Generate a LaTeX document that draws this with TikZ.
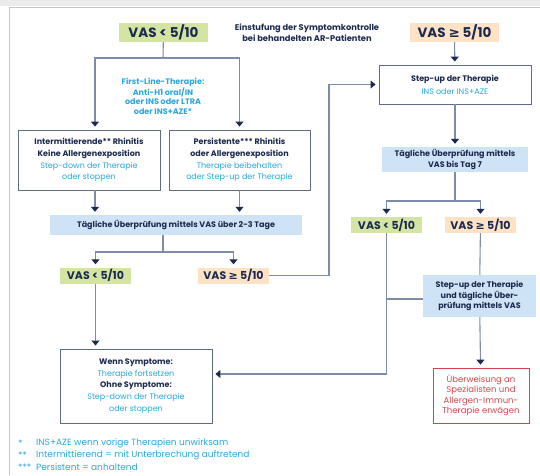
\documentclass[tikz,border=0pt]{standalone}
\usepackage{fontspec}
\setmainfont{Poppins}
\newfontfamily\symfont{DejaVu Sans}
\usetikzlibrary{arrows.meta}
\definecolor{navy}{HTML}{1B2A4E}
\definecolor{lblue}{HTML}{2AA7DF}
\definecolor{linec}{HTML}{7D8CA8}
\definecolor{boxc}{HTML}{5E6C88}
\definecolor{vgreen}{HTML}{D3E4A3}
\definecolor{vpeach}{HTML}{FDE2C6}
\definecolor{paleblue}{HTML}{CFE3F6}
\definecolor{refred}{HTML}{D9444A}
\definecolor{framec}{HTML}{C4C4C4}
\def\hd#1{{\color{navy}\bfseries #1}}
\def\lb#1{{\color{lblue}#1}}
\def\ge{{\symfont ≥}}
\begin{document}
\begin{tikzpicture}[x=1pt,y=-1pt,
  line/.style={draw=linec,line width=1.1pt},
  arr/.style={line,-{Triangle[length=5pt,width=8pt,color=navy]},shorten >=3pt},
  vasbig/.style={font=\fontsize{13.5}{14}\selectfont\bfseries,text=navy,minimum width=89pt,minimum height=19pt,inner sep=0pt},
  vassmall/.style={font=\fontsize{11}{12}\selectfont\bfseries,text=navy,minimum width=71pt,minimum height=16pt,inner sep=0pt},
  wbox/.style={draw=boxc,line width=0.9pt,fill=white,align=center,font=\fontsize{8}{11.7}\selectfont,inner sep=0pt},
  bbox/.style={fill=paleblue,align=center,text=navy,font=\fontsize{8}{10.5}\selectfont\bfseries,inner sep=0pt},
  note/.style={text=lblue,font=\fontsize{9}{10}\selectfont,anchor=west,inner sep=0pt}]
\useasboundingbox (0,0) rectangle (540,475);
\fill[black!8] (0,0) rectangle (540,6);
\draw[framec] (540,7) -- (9,7) -- (9,475);
% left branch
\node[vasbig,fill=vgreen] (v1) at (163.5,32.5) {VAS < 5/10};
\node[align=center,text=navy,font=\fontsize{8.3}{11}\selectfont\bfseries] (title) at (307,32.5) {Einstufung der Symptomkontrolle\\bei behandelten AR-Patienten};
\node[align=center,text=lblue,font=\fontsize{8}{9.5}\selectfont\bfseries] (flt) at (163,96) {First-Line-Therapie:\\Anti-H1 oral/IN\\oder INS oder LTRA\\oder INS+AZE*};
\node[wbox,minimum width=142pt,minimum height=60pt] (int) at (89,160) {\hd{Intermittierende** Rhinitis}\\\hd{Keine Allergenexposition}\\\lb{Step-down der Therapie}\\\lb{oder stoppen}};
\node[wbox,minimum width=141pt,minimum height=60pt] (per) at (239.5,160) {\hd{Persistente*** Rhinitis}\\\hd{oder Allergenexposition}\\\lb{Therapie beibehalten}\\\lb{oder Step-up der Therapie}};
\node[bbox,minimum width=252pt,minimum height=20pt] (d1) at (176,225) {Tägliche Überprüfung mittels VAS über 2-3 Tage};
\node[vassmall,fill=vgreen] (v3) at (95.5,275.5) {VAS < 5/10};
\node[vassmall,fill=vpeach] (v4) at (233.5,275.5) {VAS \ge{} 5/10};
\node[wbox,minimum width=152pt,minimum height=74pt] (fin) at (136,386) {\hd{Wenn Symptome:}\\\lb{Therapie fortsetzen}\\\hd{Ohne Symptome:}\\\lb{Step-down der Therapie}\\\lb{oder stoppen}};
% right branch
\node[vasbig,fill=vpeach] (v2) at (454.5,32.5) {VAS \ge{} 5/10};
\node[wbox,minimum width=152pt,minimum height=39pt,font=\fontsize{8}{13}\selectfont] (su) at (455,84.5) {\hd{Step-up der Therapie}\\\lb{INS oder INS+AZE}};
\node[bbox,minimum width=146pt,minimum height=25pt] (d2) at (455,159.5) {Tägliche Überprüfung mittels\\VAS bis Tag 7};
\node[vassmall,fill=vgreen] (v5) at (386.5,225) {VAS < 5/10};
\node[vassmall,fill=vpeach] (v6) at (480.5,225) {VAS \ge{} 5/10};
\node[bbox,minimum width=113pt,minimum height=42pt] (su2) at (479.5,296) {Step-up der Therapie\\und tägliche Über-\\prüfung mittels VAS};
\node[draw=refred,line width=0.8pt,align=center,text=refred,font=\fontsize{8.5}{10.5}\selectfont,minimum width=96pt,minimum height=55pt,inner sep=0pt] (ref) at (481,395.5) {Überweisung an\\Spezialisten und\\Allergen-Immun-\\Therapie erwägen};
% connectors
\coordinate (j1) at (163,58);
\coordinate (j2) at (163,252);
\coordinate (j3) at (455,201);
\coordinate (k) at (329,84.5);
\draw[line] (v1) -- (j1);
\draw[arr] (j1) -| ([xshift=6pt]int.north);
\draw[arr] (j1) -| (per.north);
\draw[arr] ([xshift=6pt]int.south) -- ([xshift=6pt]int.south |- d1.north);
\draw[arr] (per.south) -- (per.south |- d1.north);
\draw[line] (d1.south -| j2) -- (j2);
\draw[arr] (j2) -| (v3.north);
\draw[arr] (j2) -| (v4.north);
\draw[arr] (v4.east) -| (k) -- (su.west);
\draw[arr] (v3.south) -- (v3.south |- fin.north);
\draw[arr] (v2) -- (su);
\draw[arr] (su) -- (d2);
\draw[line] (d2) -- (j3);
\draw[arr] (j3) -| (v5.north);
\draw[arr] (j3) -| (v6.north);
\draw[line] (v6) -- (su2);
\draw[arr] (v5.south) |- ([yshift=12pt]fin.east);
\draw[line] ([yshift=-3pt]su2.west) -- ([yshift=-3pt]su2.west -| v5);
\draw[arr] (su2) -- (ref);
% notes
\foreach \y/\m/\t in {443/*/INS+AZE wenn vorige Therapien unwirksam,455/**/Intermittierend = mit Unterbrechung auftretend,467/***/Persistent = anhaltend}{
  \node[note] at (18,\y) {\m};
  \node[note] at (36,\y) {\t};
}
\end{tikzpicture}
\end{document}
